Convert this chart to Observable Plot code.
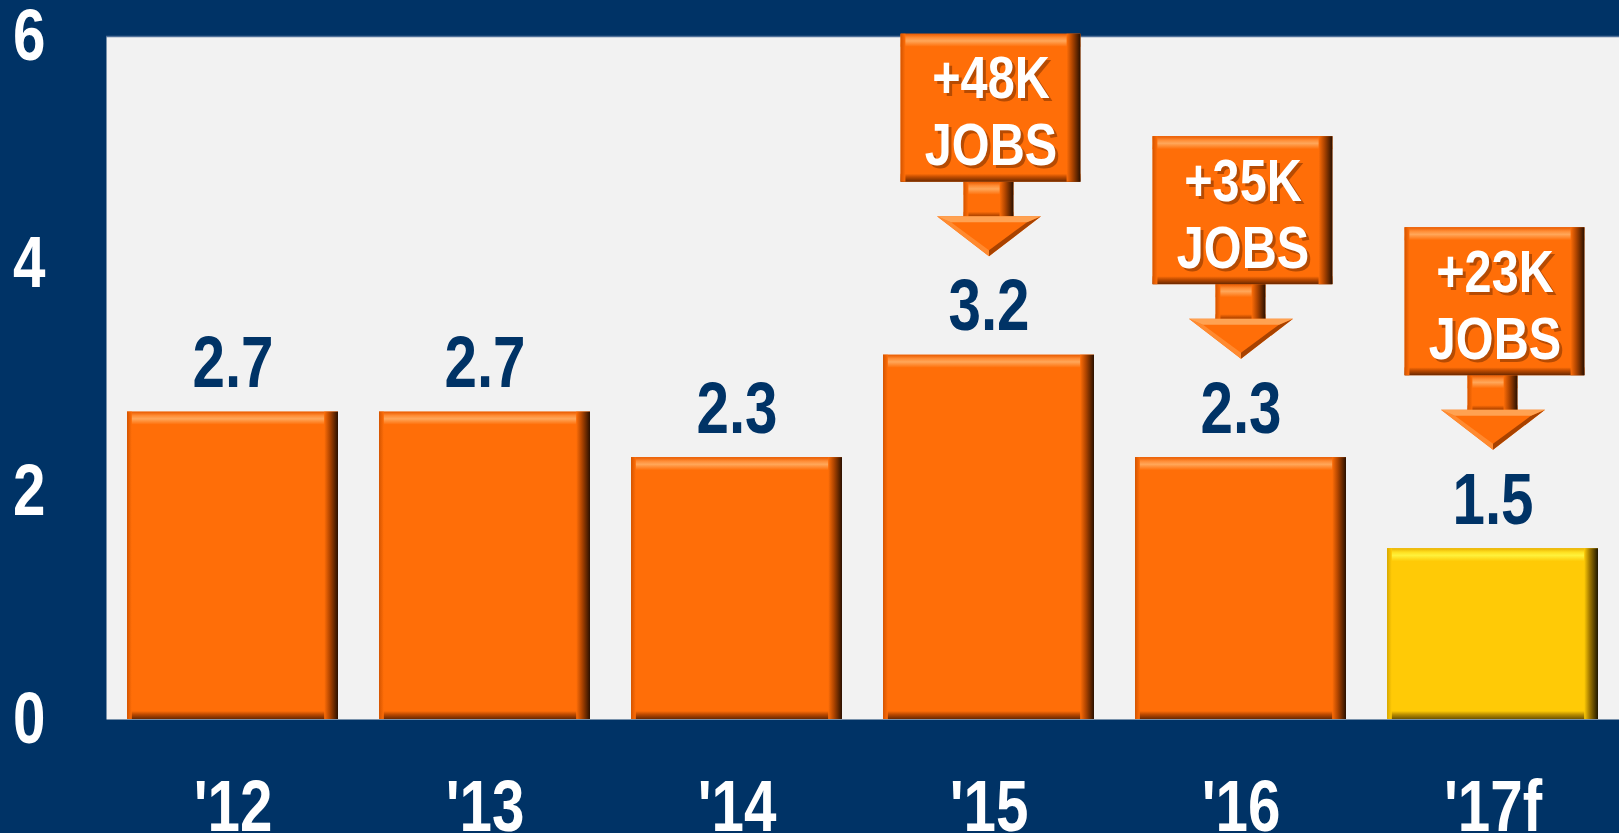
<!DOCTYPE html>
<html><head><meta charset="utf-8">
<script src="https://cdn.jsdelivr.net/npm/d3@7"></script>
<script src="https://cdn.jsdelivr.net/npm/@observablehq/plot@0.6"></script>
<style>
html,body{margin:0;padding:0;background:#003366;overflow:hidden}
#chart svg{display:block}
</style>
</head><body><div id="chart"></div>
<script>
// ---- data ----
const years = ["'12", "'13", "'14", "'15", "'16", "'17f"];
const values = [2.7, 2.7, 2.3, 3.2, 2.3, 1.5];
const calloutYears = ["'15", "'16", "'17f"];
const calloutLabels = ["+48K", "+35K", "+23K"];
const calloutUnit = "JOBS";
const yTicks = [0, 2, 4, 6];

const bars = years.map((year, i) => ({year, value: values[i], forecast: year.endsWith("f")}));
const callouts = calloutYears.map((year, i) => ({
  year, label: calloutLabels[i] + "\n" + calloutUnit, value: values[years.indexOf(year)]
}));

// ---- layout constants ----
const W = 1619, H = 833, ML = 106, MT = 36, MB = 114;
const PI = 0.163, PO = 0.08;
const step = (W - ML) / (years.length - PI + 2 * PO);
const BW = step * (1 - PI);            // bar width in px
const pxPerUnit = (H - MT - MB) / 6;
const u = px => px / pxPerUnit;        // px -> data units
const TIP = u(99), SHAFT_BOT = u(139), BOX_BOT = u(173), BOX_TOP = u(321);
const SQUEEZE = 0.81;                  // narrow bold lettering

const FONT = "'Liberation Sans',Arial,Helvetica,sans-serif";
const NAVY = "#003366";
const pal = {
  o: {main: "#ff6e08"},
  y: {main: "#ffca06"}
};

function bevel(data, {y1, y2, insetLeft = 0, insetRight = 0, p}) {
  const inner = BW - insetLeft - insetRight;
  const common = {x: "year", insetLeft, insetRight};
  return [
    Plot.barY(data, {...common, y1, y2, fill: pal[p].main}),
    Plot.barY(data, {...common, y1: d => y2(d) - u(13), y2, fill: `url(#top-${p})`}),
    Plot.barY(data, {...common, y1, y2: d => y1(d) + u(8), fill: `url(#bot-${p})`}),
    Plot.barY(data, {x: "year", y1, y2, insetRight, insetLeft: insetLeft + inner - 14, fill: `url(#right-${p})`}),
    Plot.barY(data, {x: "year", y1, y2, insetLeft, insetRight: insetRight + inner - 5, fill: `url(#left-${p})`})
  ];
}

const headFull = {draw(c) { c.moveTo(-52, -40); c.lineTo(52, -40); c.lineTo(0, 0); c.closePath(); }};
const headTop = {draw(c) { c.moveTo(-52, -40); c.lineTo(52, -40); c.lineTo(38, -34); c.lineTo(-38, -34); c.closePath(); }};
const headLeft = {draw(c) { c.moveTo(-52, -40); c.lineTo(-38, -34); c.lineTo(0, -6); c.lineTo(0, 0); c.closePath(); }};
const headRight = {draw(c) { c.moveTo(52, -40); c.lineTo(38, -34); c.lineTo(0, -6); c.lineTo(0, 0); c.closePath(); }};

const orangeBars = bars.filter(d => !d.forecast);
const yellowBars = bars.filter(d => d.forecast);

const chart = Plot.plot({
  width: W, height: H,
  marginLeft: ML, marginRight: 0, marginTop: MT, marginBottom: MB,
  style: {background: NAVY, fontFamily: FONT},
  x: {domain: years, paddingInner: PI, paddingOuter: PO, label: null},
  y: {domain: [0, 6], label: null},
  marks: [
    Plot.frame({fill: "#f2f2f2"}),
    Plot.ruleY([6], {stroke: "#4f6f98", strokeWidth: 1.5}),
    ...bevel(orangeBars, {y1: d => 0, y2: d => d.value, p: "o"}),
    ...bevel(yellowBars, {y1: d => 0, y2: d => d.value, p: "y"}),
    // callouts
    ...bevel(callouts, {y1: d => d.value + SHAFT_BOT - u(4), y2: d => d.value + BOX_BOT, insetLeft: (BW - 50) / 2, insetRight: (BW - 50) / 2, p: "o"}),
    ...bevel(callouts, {y1: d => d.value + BOX_BOT, y2: d => d.value + BOX_TOP, insetLeft: (BW - 180) / 2 + 2, insetRight: (BW - 180) / 2 - 2, p: "o"}),
    Plot.dot(callouts, {x: "year", y: d => d.value + TIP, symbol: headFull, fill: pal.o.main, stroke: "none"}),
    Plot.dot(callouts, {x: "year", y: d => d.value + TIP, symbol: headLeft, fill: "#ff8a30", stroke: "none"}),
    Plot.dot(callouts, {x: "year", y: d => d.value + TIP, symbol: headRight, fill: "#a84200", stroke: "none"}),
    Plot.dot(callouts, {x: "year", y: d => d.value + TIP, symbol: headTop, fill: "#ffa252", stroke: "none"}),
    Plot.text(callouts, {x: "year", y: d => d.value + (BOX_BOT + BOX_TOP) / 2, text: "label", dx: 5, dy: 5,
      fill: "#7a3000", fillOpacity: 0.55, fontSize: 60, fontWeight: "bold", lineHeight: 1.12, fontFamily: FONT}),
    Plot.text(callouts, {x: "year", y: d => d.value + (BOX_BOT + BOX_TOP) / 2, text: "label", dx: 2, dy: 2,
      fill: "white", fontSize: 60, fontWeight: "bold", lineHeight: 1.12, fontFamily: FONT}),
    // value labels
    Plot.text(bars, {x: "year", y: "value", text: d => d.value.toFixed(1), dy: -48,
      fill: NAVY, fontSize: 72, fontWeight: "bold", fontFamily: FONT}),
    // axes
    Plot.axisY(yTicks, {tickSize: 0, tickPadding: 61, tickFormat: d => String(d), fill: "white", fontSize: 72, fontWeight: "bold", fontFamily: FONT}),
    Plot.axisX({tickSize: 0, tickPadding: 60, fill: "white", fontSize: 72, fontWeight: "bold", fontFamily: FONT})
  ]
});

// squeeze lettering horizontally around each text's own anchor
d3.select(chart).selectAll("text").each(function() {
  const t = this.getAttribute("transform") || "";
  this.setAttribute("transform", t + ` scale(${SQUEEZE},1)`);
});

// gradient definitions for the bevel shading
const defs = d3.select(chart).insert("defs", ":first-child");
function grad(id, vertical, stops) {
  const g = defs.append("linearGradient").attr("id", id)
    .attr("x1", 0).attr("y1", 0).attr("x2", vertical ? 0 : 1).attr("y2", vertical ? 1 : 0);
  stops.forEach(([o, c]) => g.append("stop").attr("offset", o).attr("stop-color", c));
}
grad("top-o", true, [[0, "#e85a00"], [0.3, "#ff8c34"], [0.55, "#ffa75a"], [1, pal.o.main]]);
grad("bot-o", true, [[0, pal.o.main], [0.4, "#c04c00"], [1, "#6a2800"]]);
grad("right-o", false, [[0, pal.o.main], [0.4, "#b24600"], [1, "#2a1000"]]);
grad("left-o", false, [[0, "#d45400"], [1, pal.o.main]]);
grad("top-y", true, [[0, "#e8b000"], [0.3, "#ffe020"], [0.55, "#fff23c"], [1, pal.y.main]]);
grad("bot-y", true, [[0, pal.y.main], [0.4, "#c09200"], [1, "#705400"]]);
grad("right-y", false, [[0, pal.y.main], [0.4, "#a07800"], [1, "#201800"]]);
grad("left-y", false, [[0, "#d8a800"], [1, pal.y.main]]);

document.getElementById("chart").append(chart);
</script>
</body></html>
